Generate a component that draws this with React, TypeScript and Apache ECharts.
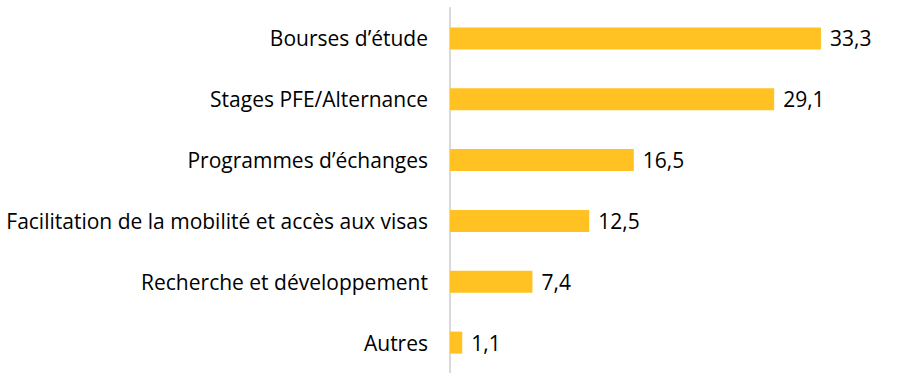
import React, { useEffect, useRef } from "react";
import * as echarts from "echarts";

const categories = [
  "Bourses d’étude",
  "Stages PFE/Alternance",
  "Programmes d’échanges",
  "Facilitation de la mobilité et accès aux visas",
  "Recherche et développement",
  "Autres",
];
const values = [33.3, 29.1, 16.5, 12.5, 7.4, 1.1];

const FONT = "Open Sans";

export default function App() {
  const ref = useRef<HTMLDivElement>(null);
  useEffect(() => {
    if (!ref.current) return;
    const chart = echarts.init(ref.current, undefined, { renderer: "svg" });
    chart.setOption({
      animation: false,
      backgroundColor: "#ffffff",
      grid: { left: 450, top: 8, width: 445.6, height: 366 },
      xAxis: {
        type: "value",
        min: 0,
        max: 40,
        show: false,
      },
      yAxis: {
        type: "category",
        data: categories,
        inverse: true,
        axisLine: { show: true, lineStyle: { color: "#d9d9d9", width: 2 } },
        axisTick: { show: false },
        axisLabel: {
          margin: 22,
          color: "#000000",
          fontFamily: FONT,
          fontSize: 21,
        },
      },
      series: [
        {
          type: "bar",
          data: values,
          barWidth: 22,
          itemStyle: { color: "#FFC222" },
          label: {
            show: true,
            position: "right",
            distance: 9,
            color: "#000000",
            fontFamily: FONT,
            fontSize: 21,
            formatter: (p: any) => String(p.value).replace(".", ","),
          },
        },
      ],
    });
    return () => chart.dispose();
  }, []);
  return (
    <div
      ref={ref}
      style={{ position: "fixed", left: 0, top: 0, width: 900, height: 373 }}
    />
  );
}
